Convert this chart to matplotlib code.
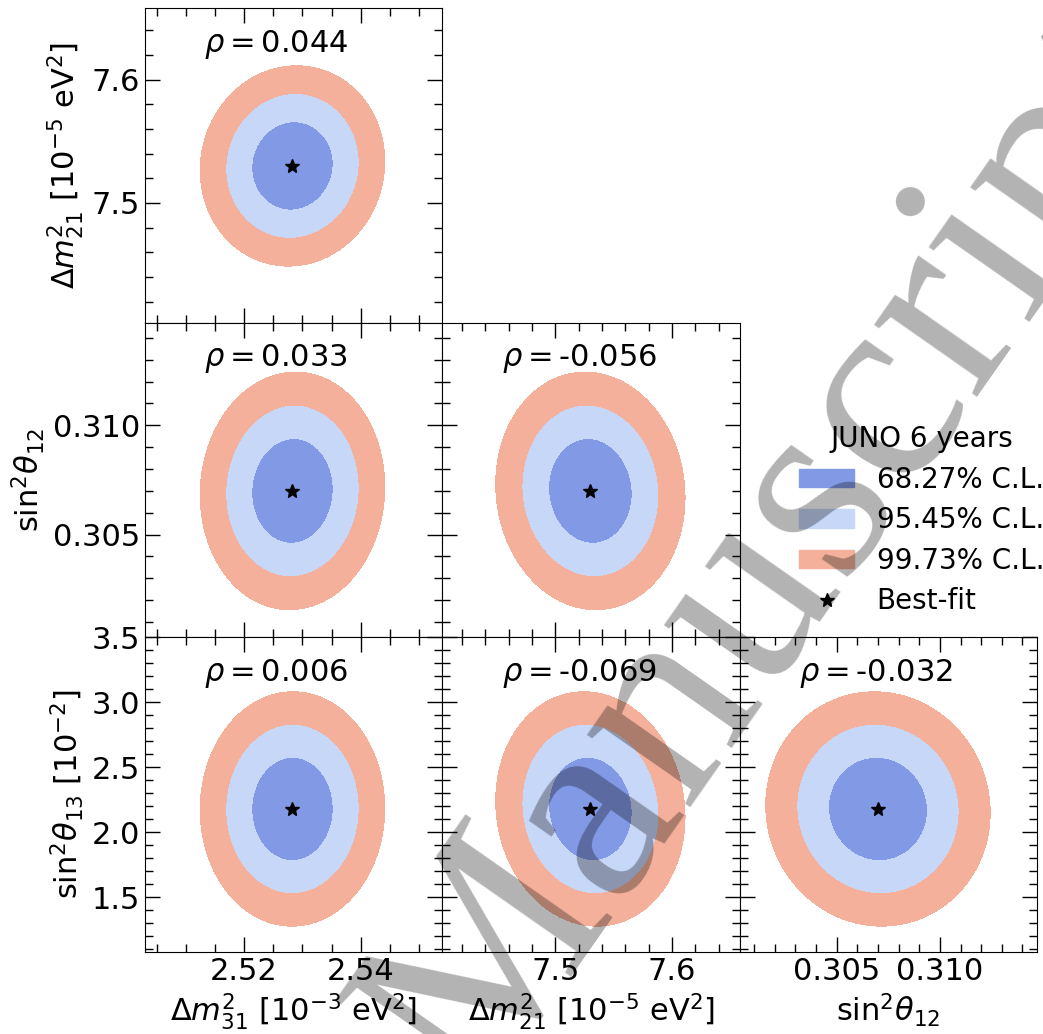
#Corner plot of JUNO 6 years sensitivity to the oscillation parameters
#2D contours at 68.27%, 95.45% and 99.73% C.L. with the correlation coefficient in each panel
import matplotlib
matplotlib.use('Agg')
import matplotlib.pyplot as plt
import numpy as np
from matplotlib.patches import Patch
from matplotlib.lines import Line2D
from matplotlib.ticker import MultipleLocator, FormatStrFormatter

#parameter names (axis labels)
labels = [r'$\Delta m^2_{31}$ [$10^{-3}$ eV$^2$]',
          r'$\Delta m^2_{21}$ [$10^{-5}$ eV$^2$]',
          r'$\mathrm{sin}^2\theta_{12}$',
          r'$\mathrm{sin}^2\theta_{13}$ [$10^{-2}$]']
#best-fit values
best_fit = [2.5283, 7.53, 0.307, 2.18]
#1 sigma uncertainties
sigma = [0.0046, 0.0236, 0.00158, 0.262]
#axis ranges
limits = [(2.503, 2.554), (7.403, 7.658), (0.3003, 0.3147), (1.08, 3.5)]
#major / minor tick steps and tick label formats
major_step = [0.02, 0.1, 0.005, 0.5]
minor_step = [0.005, 0.02, 0.001, 0.1]
tick_fmt = ['%.2f', '%.1f', '%.3f', '%.1f']
#correlation coefficients, rho[(row param, column param)]
rho = {(1, 0): 0.044,
       (2, 0): 0.033, (2, 1): -0.056,
       (3, 0): 0.006, (3, 1): -0.069, (3, 2): -0.032}
#confidence levels and delta chi2 for 2 dof
cl_names = ['68.27% C.L.', '95.45% C.L.', '99.73% C.L.']
dchi2 = [2.30, 6.18, 11.83]
colors = ['#8299e6', '#c6d7f8', '#f4b09b']

fig, axes = plt.subplots(3, 3, figsize=(10.43, 10.34), dpi=100)
fig.subplots_adjust(left=0.139, right=0.9942, top=0.9923, bottom=0.0793,
                    wspace=0, hspace=0)

for r in range(3):
    for c in range(3):
        ax = axes[r, c]
        if c > r:
            ax.axis('off')
            continue
        px = c       #parameter on x axis
        py = r + 1   #parameter on y axis
        rr = rho[(py, px)]
        #chi2 of a correlated 2D gaussian on a grid
        x = np.linspace(limits[px][0], limits[px][1], 400)
        y = np.linspace(limits[py][0], limits[py][1], 400)
        X, Y = np.meshgrid(x, y)
        dx = (X - best_fit[px]) / sigma[px]
        dy = (Y - best_fit[py]) / sigma[py]
        chi2 = (dx**2 - 2*rr*dx*dy + dy**2) / (1 - rr**2)
        ax.contourf(X, Y, chi2, levels=[0] + dchi2, colors=colors)
        ax.plot(best_fit[px], best_fit[py], marker='*', color='k', ms=10, ls='none')
        #rho is written as plain text so negative values keep a hyphen
        ax.text(0.2, 0.885, r'$\rho=$' + '%.3f' % rr,
                transform=ax.transAxes, fontsize=22, ha='left', va='center')
        ax.set_xlim(limits[px])
        ax.set_ylim(limits[py])
        ax.xaxis.set_major_locator(MultipleLocator(major_step[px]))
        ax.xaxis.set_minor_locator(MultipleLocator(minor_step[px]))
        ax.yaxis.set_major_locator(MultipleLocator(major_step[py]))
        ax.yaxis.set_minor_locator(MultipleLocator(minor_step[py]))
        ax.xaxis.set_major_formatter(FormatStrFormatter(tick_fmt[px]))
        ax.yaxis.set_major_formatter(FormatStrFormatter(tick_fmt[py]))
        ax.tick_params(which='both', direction='in', top=True, right=True,
                       labelsize=22, width=1.0)
        ax.tick_params(which='major', length=10.5)
        ax.tick_params(which='minor', length=6)
        if r == 2:
            ax.set_xlabel(labels[px], fontsize=22)
        else:
            ax.tick_params(labelbottom=False)
        if c == 0:
            ax.set_ylabel(labels[py], fontsize=22)
        else:
            ax.tick_params(labelleft=False)

#legend in the empty upper right corner
handles = [Patch(color=colors[i], label=cl_names[i]) for i in range(3)]
handles.append(Line2D([], [], marker='*', color='k', ms=10, ls='none', label='Best-fit'))
fig.legend(handles=handles, title='JUNO 6 years', loc='upper left',
           bbox_to_anchor=(0.742, 0.613), frameon=False, fontsize=20,
           title_fontsize=20, handlelength=2.0, handleheight=0.65,
           handletextpad=0.8, labelspacing=0.45)

#watermark
fig.text(0.746, 0.463, 'Manuscript', rotation=55, rotation_mode='anchor',
         ha='center', va='center', fontsize=197, family='Liberation Serif',
         color='k', alpha=0.3, zorder=10)

plt.savefig('out.png', dpi=100)
